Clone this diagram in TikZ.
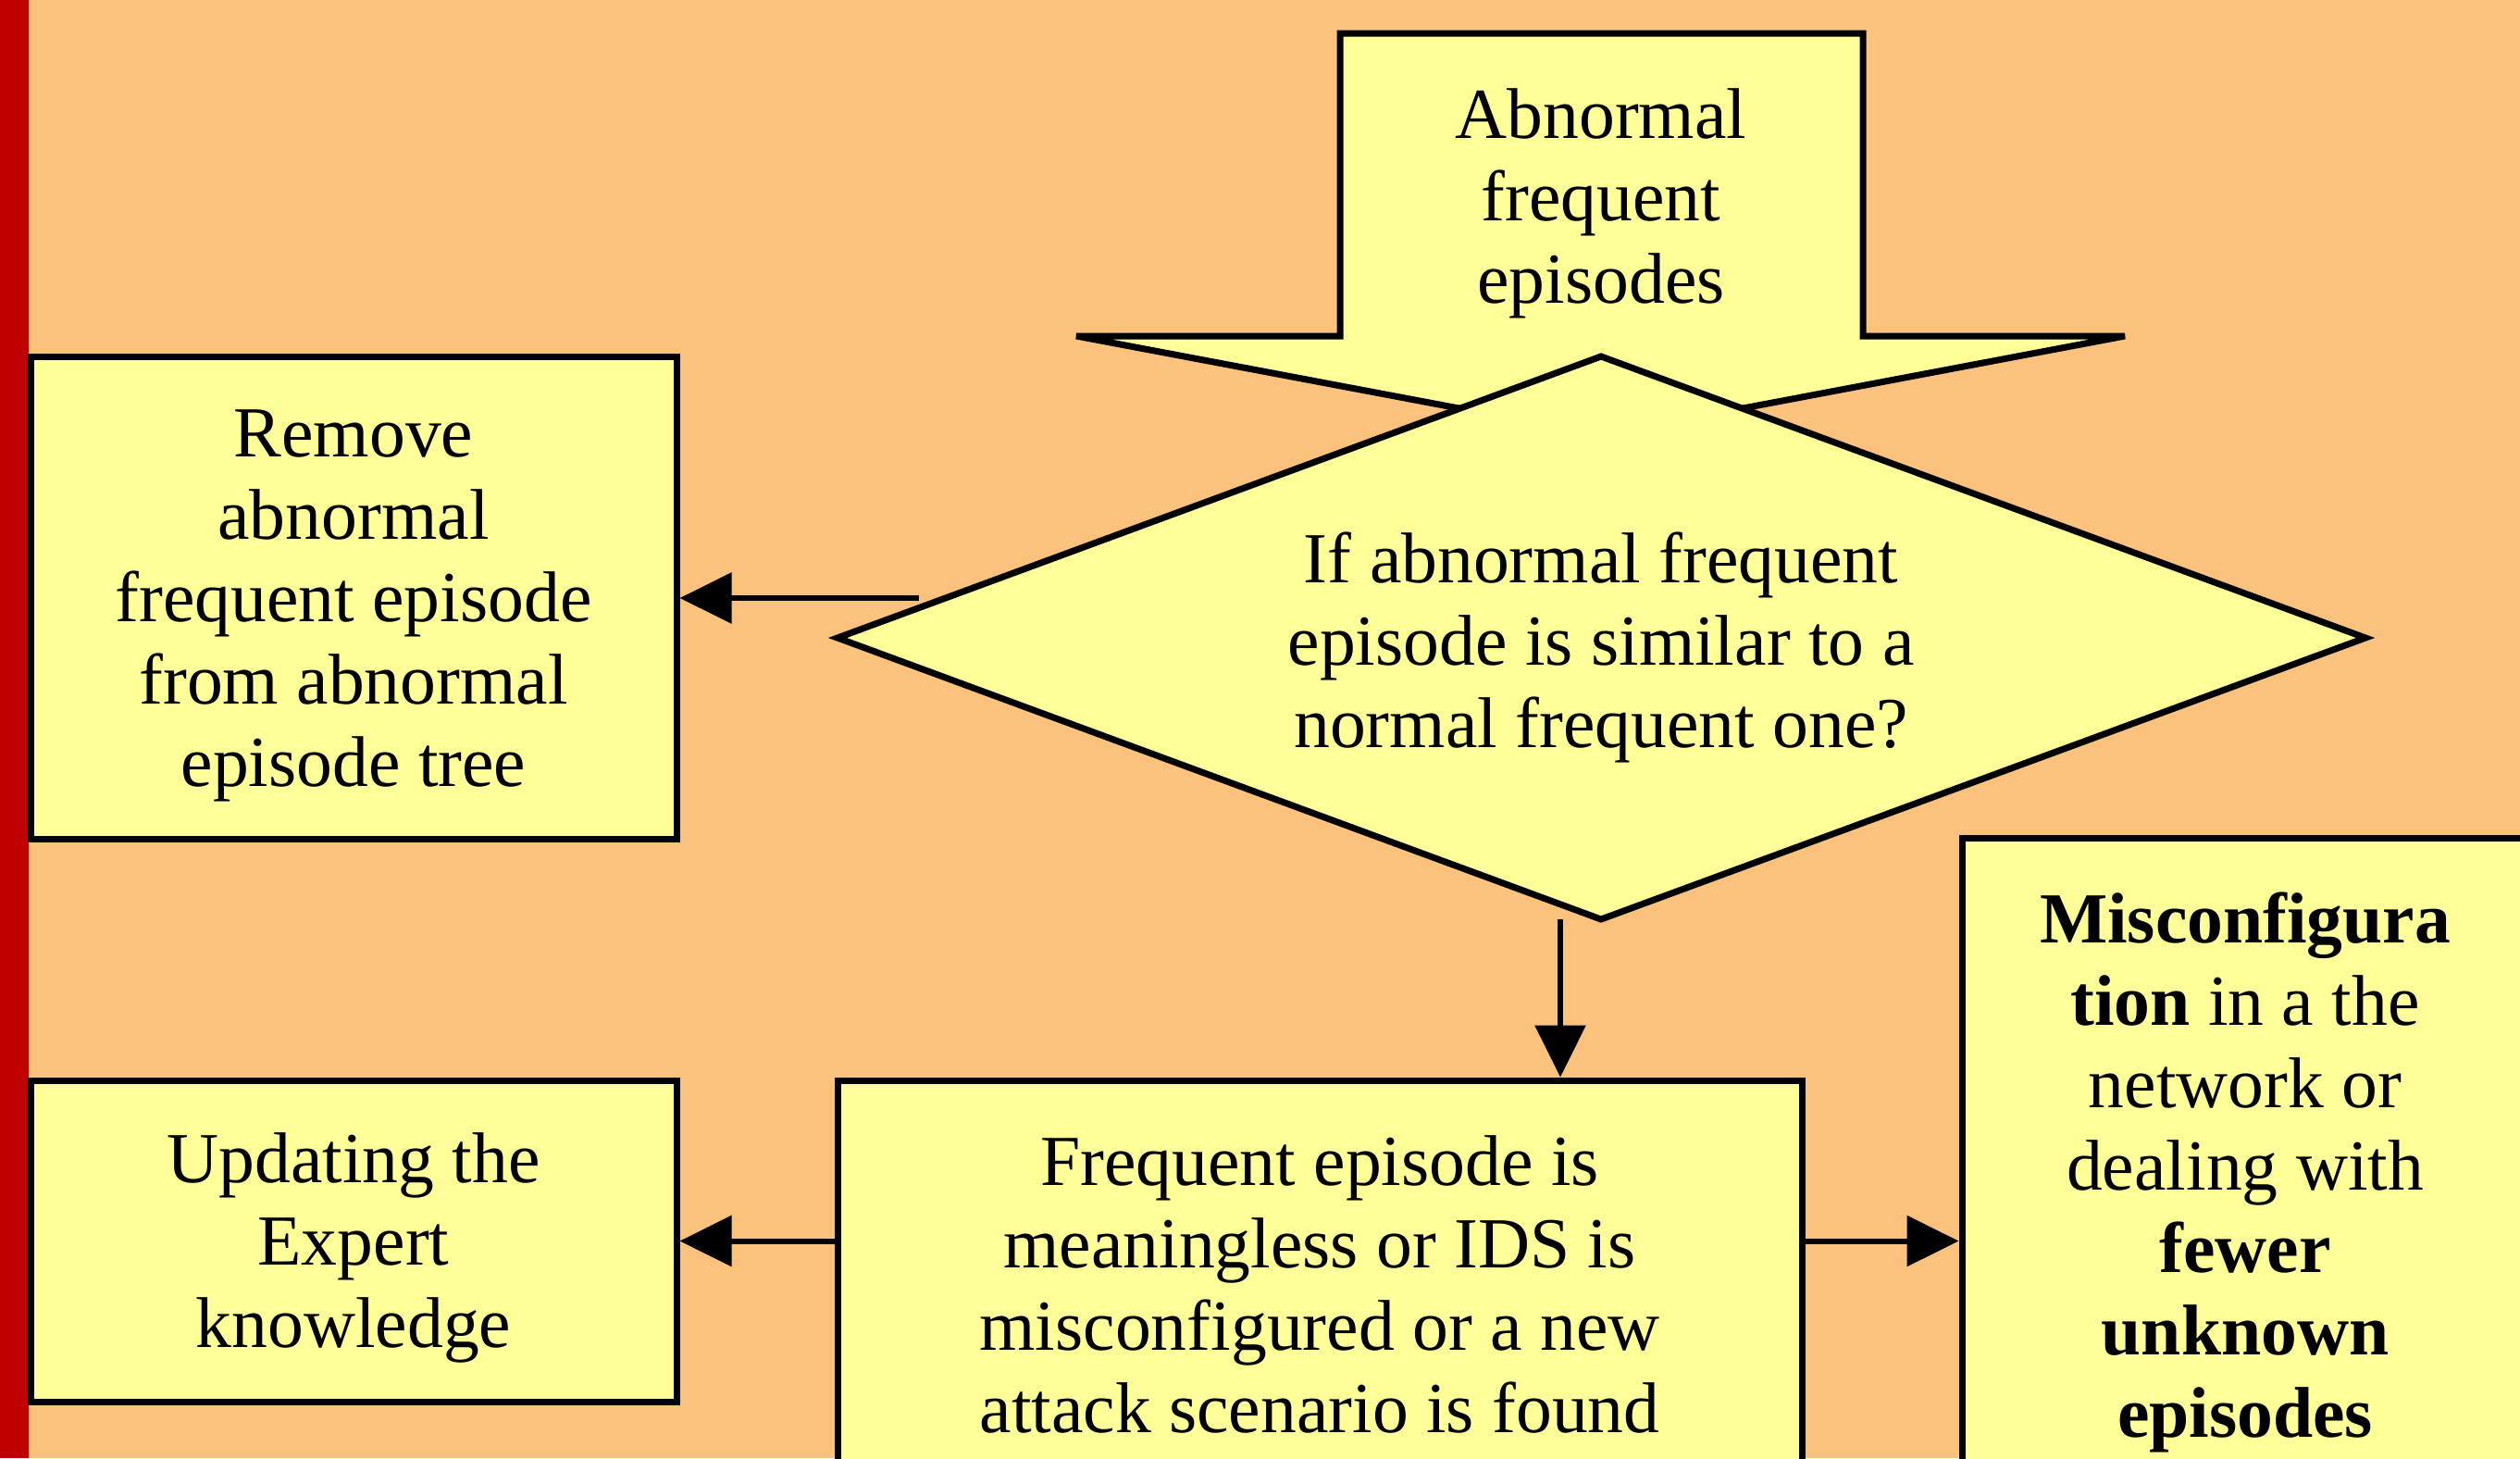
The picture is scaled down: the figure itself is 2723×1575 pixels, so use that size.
\documentclass[tikz,border=0pt]{standalone}
\usepackage{fontspec}
\setmainfont{Liberation Serif}
\usetikzlibrary{arrows.meta}
\definecolor{bgorange}{HTML}{FAC27C}
\definecolor{boxyellow}{HTML}{FFFF99}
\definecolor{barred}{HTML}{C00000}
\begin{document}
\begin{tikzpicture}[x=0.5pt,y=-0.5pt,
  txt/.style={font=\fontsize{38.8}{44.5}\selectfont, align=center, inner sep=0pt},
  procbox/.style={draw=black, line width=3.5pt, fill=boxyellow, inner sep=0pt},
  arr/.style={line width=3pt, -{Triangle[length=28pt,width=27pt]}}]
\fill[bgorange] (0,0) rectangle (2723,1575);
\useasboundingbox (0,0) rectangle (2723,1575);
\fill[barred] (0,0) rectangle (31,1575);
% big down arrow
\draw[fill=boxyellow, line width=3.5pt, line join=miter]
  (1448,36) -- (2013,36) -- (2013,363) -- (2296,363) -- (1730,470) -- (1163,363) -- (1448,363) -- cycle;
\node[txt] (abn) at (1730,220) {Abnormal\\frequent\\episodes};
% diamond
\coordinate (dtop) at (1730,385);
\coordinate (dleft) at (905,689);
\coordinate (dright) at (2556,689);
\coordinate (dbot) at (1730,993);
\draw[fill=boxyellow, line width=3.5pt, line join=miter] (dtop) -- (dright) -- (dbot) -- (dleft) -- cycle;
\node[txt] (dec) at (1730,699) {If abnormal frequent\\episode is similar to a\\normal frequent one?};
% boxes
\node[procbox, minimum width=349pt, minimum height=260.5pt] (rem) at (382,645.5) {};
\node[txt] (remt) at (382,654) {Remove\\abnormal\\frequent episode\\from abnormal\\episode tree};
\node[procbox, minimum width=349pt, minimum height=173.5pt] (upd) at (382,1340.5) {};
\node[txt] (updt) at (382,1348) {Updating the\\Expert\\knowledge};
\node[procbox, minimum width=521pt, minimum height=219pt] (mid) at (1426,1386) {};
\node[txt] (midt) at (1426,1387) {Frequent episode is\\meaningless or IDS is\\misconfigured or a new\\attack scenario is found};
\node[procbox, minimum width=306pt, minimum height=354pt] (res) at (2426,1259) {};
\node[txt] (rest) at (2426,1266) {\textbf{Misconfigura}\\\textbf{tion} in a the\\network or\\dealing with\\\textbf{fewer}\\\textbf{unknown}\\\textbf{episodes}};
% connectors
\coordinate (lstart) at (993,646);
\draw[arr] (lstart) -- (lstart -| rem.east);
\coordinate (dstart) at (1686,993);
\draw[arr] (dstart) -- (dstart |- mid.north);
\draw[arr] (mid.west |- upd.east) -- (upd.east);
\draw[arr] (mid.east |- upd.east) -- (res.west |- upd.east);
\end{tikzpicture}
\end{document}
